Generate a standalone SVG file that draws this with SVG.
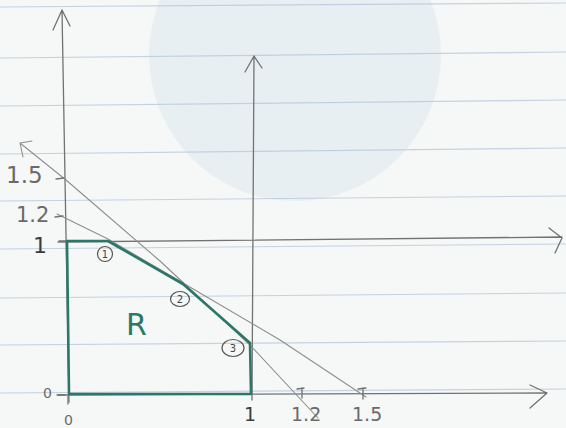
<svg xmlns="http://www.w3.org/2000/svg" width="566" height="428" viewBox="0 0 566 428">
<defs>
<style>
.rule{stroke:#b3c6da;stroke-width:1.2;fill:none;opacity:.75}
.pen{stroke:#727272;stroke-width:1.3;fill:none;stroke-linecap:round;stroke-linejoin:round}
.thin{stroke:#8e8e8e;stroke-width:1.1;fill:none;stroke-linecap:round;stroke-linejoin:round}
.region{stroke:#2b7868;stroke-width:2.6;fill:none;stroke-linejoin:round}
.lbl{font-family:"DejaVu Sans",sans-serif;fill:#6a6a6a}
.dark{fill:#3c3c3c}
.circ{stroke:#555;stroke-width:1.2;fill:none}
.cn{font-family:"DejaVu Sans",sans-serif;font-size:10px;fill:#444;text-anchor:middle}
</style>
</defs>
<rect width="566" height="428" fill="#f6f7f7"/>
<g id="paper">
<circle cx="295" cy="55" r="146" fill="#e2ebf0" opacity="0.7"/>
<path class="rule" d="M0,7 L566,3"/>
<path class="rule" d="M0,58 L566,52"/>
<path class="rule" d="M0,106 L566,100"/>
<path class="rule" d="M0,154 L566,148"/>
<path class="rule" d="M0,201 L566,196"/>
<path class="rule" d="M0,249 L566,244"/>
<path class="rule" d="M0,298 L566,293"/>
<path class="rule" d="M0,345 L566,341"/>
<path class="rule" d="M0,393 L566,389"/>
</g>
<g id="connectors">
<path id="axis-y" class="pen" d="M69,402 L62,10 M53,30 L62,10 L70,26"/>
<path id="axis-y2" class="pen" d="M252,400 L254,56 M245,72 L254,56 L262,68"/>
<path id="axis-x-top" class="pen" d="M58,242 L562,237 M549,228 L562,238 L555,253"/>
<path id="axis-x" class="pen" d="M58,395 L547,393 M530,385 L547,393 L530,408"/>
<path id="line-steep" class="thin" d="M20,143 L66,180 L160,261 L250,345 L318,418 M23,157 L20,143 L32,141"/>
<path id="line-shallow" class="thin" d="M57,214 L108,239 L183,283 L280,340 L366,397"/>
<path class="pen" d="M56,179 L64,178 M55,217 L63,216 M59,241 L66,241 M57,395 L65,395 M297,389 L304,388 M302,388 L302,398 M358,389 L366,388 M363,388 L363,399 M68,396 L68,404"/>
</g>
<g id="region-R">
<path class="region" d="M69,394 L67,241 L108,241 L183,284 L250,343 L251,394 Z"/>
<text class="lbl" x="126" y="335" font-size="30" style="fill:#2b7868">R</text>
</g>
<g id="vertex-1">
<circle class="circ" cx="105" cy="254" r="7.5"/>
<text class="cn" x="105" y="258">1</text>
</g>
<g id="vertex-2">
<ellipse class="circ" cx="180" cy="299" rx="9.5" ry="7.5"/>
<text class="cn" x="180" y="303">2</text>
</g>
<g id="vertex-3">
<ellipse class="circ" cx="233" cy="348" rx="11" ry="8.5"/>
<text class="cn" x="233" y="352">3</text>
</g>
<g id="labels">
<text class="lbl" x="6" y="183" font-size="23">1.5</text>
<text class="lbl" x="16" y="222" font-size="21">1.2</text>
<text class="lbl dark" x="33" y="253" font-size="22">1</text>
<text class="lbl" x="43" y="398" font-size="14">0</text>
<text class="lbl" x="64" y="425" font-size="14">0</text>
<text class="lbl dark" x="244" y="421" font-size="19">1</text>
<text class="lbl" x="291" y="421" font-size="19">1.2</text>
<text class="lbl" x="352" y="421" font-size="19">1.5</text>
</g>
</svg>
